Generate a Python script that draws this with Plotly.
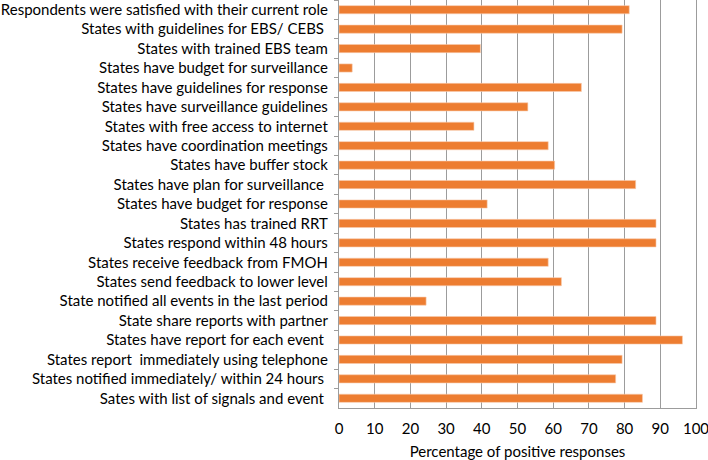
import plotly.graph_objects as go

categories = [
    "Respondents were satisfied with their current role",
    "States with guidelines for EBS/ CEBS ",
    "States with trained EBS team",
    "States have budget for surveillance",
    "States have guidelines for response",
    "States have surveillance guidelines",
    "States with free access to internet",
    "States have coordination meetings",
    "States have buffer stock",
    "States have plan for surveillance ",
    "States have budget for response",
    "States has trained RRT",
    "States respond within 48 hours",
    "States receive feedback from FMOH",
    "States send feedback to lower level",
    "State notified all events in the last period",
    "State share reports with partner",
    "States have report for each event ",
    "States report  immediately using telephone",
    "States notified immediately/ within 24 hours ",
    "Sates with list of signals and event ",
]
values = [81.3, 79.3, 39.6, 3.7, 67.9, 52.9, 37.8, 58.6, 60.4, 83.1, 41.5,
          88.8, 88.8, 58.6, 62.3, 24.4, 88.8, 96.2, 79.3, 77.5, 85.0]
x_ticks = [0, 10, 20, 30, 40, 50, 60, 70, 80, 90, 100]
x_title = "Percentage of positive responses"

FONT = "Lato, 'Open Sans', sans-serif"

fig = go.Figure(go.Bar(
    x=values, y=categories, orientation="h",
    marker=dict(color="#ED7D31", line=dict(color="#F8CBAD", width=0.6)),
))
fig.update_layout(
    width=708, height=460,
    margin=dict(l=339, r=12, t=0, b=52, autoexpand=False),
    paper_bgcolor="white", plot_bgcolor="white",
    bargap=0.58, showlegend=False,
    font=dict(family=FONT, size=15, color="#000000"),
)
fig.update_xaxes(
    range=[0, 100], tickvals=x_ticks, ticktext=[str(t) for t in x_ticks],
    showgrid=True, gridcolor="#9c9c9c", gridwidth=1.3,
    showline=True, linecolor="#9c9c9c", linewidth=1.3,
    ticks="", zeroline=False, automargin=False,
    ticklabeloverflow="allow", ticklabelstandoff=7,
    tickfont=dict(family=FONT, size=15),
    title=dict(text=x_title, font=dict(family=FONT, size=15), standoff=12),
)
fig.update_yaxes(
    range=[len(categories) - 0.5, -0.5], type="category", automargin=False,
    showline=True, linecolor="#9c9c9c", linewidth=1.3, mirror=True,
    ticks="outside", ticklen=4, tickcolor="#9c9c9c", tickson="boundaries",
    showgrid=False, ticklabelstandoff=7,
    tickfont=dict(family=FONT, size=15),
)
fig.write_html("out.html", config={"displayModeBar": False},
               post_script="document.body.style.margin='0';")
